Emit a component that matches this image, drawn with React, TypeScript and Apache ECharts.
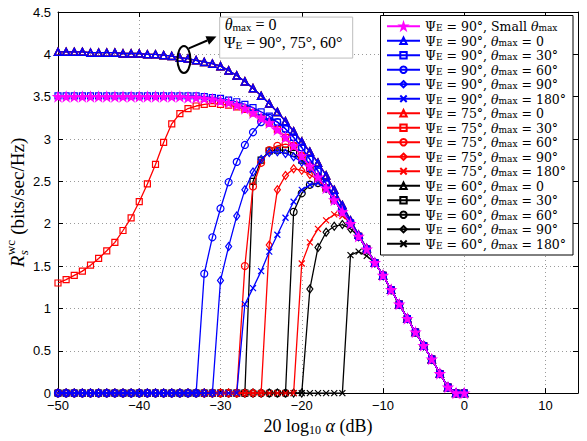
import React, { useEffect, useRef } from 'react';
import * as echarts from 'echarts';

// ---------------- data ----------------
const alphaDb = [-50, -49, -48, -47, -46, -45, -44, -43, -42, -41, -40, -39, -38, -37, -36, -35, -34, -33, -32, -31, -30, -29, -28, -27, -26, -25, -24, -23, -22, -21, -20, -19, -18, -17, -16, -15, -14, -13, -12, -11, -10, -9, -8, -7, -6, -5, -4, -3, -2, -1, 0];

const rate90Small = [
  3.50, 3.50, 3.50, 3.50, 3.50, 3.50, 3.50, 3.50, 3.50, 3.50,
  3.50, 3.50, 3.50, 3.50, 3.50, 3.50, 3.49, 3.49, 3.48, 3.47,
  3.45, 3.43, 3.40, 3.36, 3.31, 3.25, 3.19, 3.11, 3.02, 2.92,
  2.80, 2.68, 2.55, 2.42, 2.28, 2.14, 2.00, 1.85, 1.70, 1.54,
  1.39, 1.22, 1.05, 0.88, 0.72, 0.56, 0.40, 0.23, 0.07, 0, 0];
const rateTheta0 = [
  4.03, 4.03, 4.03, 4.03, 4.02, 4.02, 4.02, 4.02, 4.01, 4.01,
  4.01, 4.00, 4.00, 3.99, 3.98, 3.96, 3.95, 3.93, 3.91, 3.89,
  3.86, 3.81, 3.75, 3.68, 3.60, 3.51, 3.42, 3.32, 3.21, 3.09,
  2.97, 2.85, 2.72, 2.57, 2.40, 2.22, 2.04, 1.87, 1.71, 1.54,
  1.39, 1.22, 1.05, 0.88, 0.72, 0.56, 0.40, 0.23, 0.07, 0, 0];
const rate90t30 = [
  3.51, 3.51, 3.51, 3.51, 3.51, 3.51, 3.51, 3.51, 3.51, 3.51,
  3.51, 3.51, 3.51, 3.51, 3.51, 3.51, 3.51, 3.51, 3.50, 3.49,
  3.48, 3.46, 3.44, 3.41, 3.37, 3.32, 3.27, 3.20, 3.12, 3.02,
  2.90, 2.76, 2.62, 2.47, 2.32, 2.16, 2.01, 1.85, 1.70, 1.54,
  1.39, 1.22, 1.05, 0.88, 0.72, 0.56, 0.40, 0.23, 0.07, 0, 0];
const rate90t60 = [
  0, 0, 0, 0, 0, 0, 0, 0, 0, 0,
  0, 0, 0, 0, 0, 0, 0, 0, 1.41, 1.84,
  2.18, 2.49, 2.73, 2.93, 3.08, 3.20, 3.25, 3.20, 3.12, 3.02,
  2.90, 2.76, 2.62, 2.47, 2.32, 2.16, 2.01, 1.85, 1.70, 1.54,
  1.39, 1.22, 1.05, 0.88, 0.72, 0.56, 0.40, 0.23, 0.07, 0, 0];
const rate90t90 = [
  0, 0, 0, 0, 0, 0, 0, 0, 0, 0,
  0, 0, 0, 0, 0, 0, 0, 0, 0, 0,
  1.33, 1.73, 2.09, 2.40, 2.61, 2.76, 2.84, 2.85, 2.83, 2.79,
  2.73, 2.65, 2.55, 2.42, 2.28, 2.14, 2.00, 1.85, 1.70, 1.54,
  1.39, 1.22, 1.05, 0.88, 0.72, 0.56, 0.40, 0.23, 0.07, 0, 0];
const rate90t180 = [
  0, 0, 0, 0, 0, 0, 0, 0, 0, 0,
  0, 0, 0, 0, 0, 0, 0, 0, 0, 0,
  0, 0, 0, 1.05, 1.24, 1.44, 1.67, 1.87, 2.07, 2.26,
  2.40, 2.46, 2.48, 2.42, 2.28, 2.14, 2.00, 1.85, 1.70, 1.54,
  1.39, 1.22, 1.05, 0.88, 0.72, 0.56, 0.40, 0.23, 0.07, 0, 0];
const rate75t30 = [
  1.30, 1.34, 1.39, 1.44, 1.51, 1.59, 1.68, 1.78, 1.92, 2.07,
  2.26, 2.47, 2.70, 2.96, 3.18, 3.30, 3.36, 3.39, 3.41, 3.42,
  3.41, 3.40, 3.38, 3.35, 3.31, 3.25, 3.19, 3.11, 3.02, 2.92,
  2.80, 2.68, 2.55, 2.42, 2.28, 2.14, 2.00, 1.85, 1.70, 1.54,
  1.39, 1.22, 1.05, 0.88, 0.72, 0.56, 0.40, 0.23, 0.07, 0, 0];
const rate75t60 = [
  0, 0, 0, 0, 0, 0, 0, 0, 0, 0,
  0, 0, 0, 0, 0, 0, 0, 0, 0, 0,
  0, 0, 0, 1.50, 2.44, 2.72, 2.87, 2.92, 2.94, 2.92,
  2.80, 2.68, 2.55, 2.42, 2.28, 2.14, 2.00, 1.85, 1.70, 1.54,
  1.39, 1.22, 1.05, 0.88, 0.72, 0.56, 0.40, 0.23, 0.07, 0, 0];
const rate75t90 = [
  0, 0, 0, 0, 0, 0, 0, 0, 0, 0,
  0, 0, 0, 0, 0, 0, 0, 0, 0, 0,
  0, 0, 0, 0, 0, 0, 1.75, 2.40, 2.57, 2.65,
  2.63, 2.58, 2.52, 2.42, 2.28, 2.14, 2.00, 1.85, 1.70, 1.54,
  1.39, 1.22, 1.05, 0.88, 0.72, 0.56, 0.40, 0.23, 0.07, 0, 0];
const rate75t180 = [
  0, 0, 0, 0, 0, 0, 0, 0, 0, 0,
  0, 0, 0, 0, 0, 0, 0, 0, 0, 0,
  0, 0, 0, 0, 0, 0, 0, 0, 0, 0,
  1.53, 1.78, 1.94, 2.04, 2.11, 2.09, 2.01, 1.85, 1.70, 1.54,
  1.39, 1.22, 1.05, 0.88, 0.72, 0.56, 0.40, 0.23, 0.07, 0, 0];
const rate60t30 = [
  0, 0, 0, 0, 0, 0, 0, 0, 0, 0,
  0, 0, 0, 0, 0, 0, 0, 0, 0, 0,
  0, 0, 0, 0, 2.50, 2.75, 2.86, 2.87, 2.87, 2.83,
  2.75, 2.65, 2.55, 2.42, 2.28, 2.14, 2.00, 1.85, 1.70, 1.54,
  1.39, 1.22, 1.05, 0.88, 0.72, 0.56, 0.40, 0.23, 0.07, 0, 0];
const rate60t60 = [
  0, 0, 0, 0, 0, 0, 0, 0, 0, 0,
  0, 0, 0, 0, 0, 0, 0, 0, 0, 0,
  0, 0, 0, 0, 0, 0, 0, 0, 0, 2.14,
  2.36, 2.46, 2.48, 2.42, 2.28, 2.14, 2.00, 1.85, 1.70, 1.54,
  1.39, 1.22, 1.05, 0.88, 0.72, 0.56, 0.40, 0.23, 0.07, 0, 0];
const rate60t90 = [
  0, 0, 0, 0, 0, 0, 0, 0, 0, 0,
  0, 0, 0, 0, 0, 0, 0, 0, 0, 0,
  0, 0, 0, 0, 0, 0, 0, 0, 0, 0,
  0, 1.23, 1.72, 1.90, 1.97, 1.99, 1.94, 1.85, 1.70, 1.54,
  1.39, 1.22, 1.05, 0.88, 0.72, 0.56, 0.40, 0.23, 0.07, 0, 0];
const rate60t180 = [
  0, 0, 0, 0, 0, 0, 0, 0, 0, 0,
  0, 0, 0, 0, 0, 0, 0, 0, 0, 0,
  0, 0, 0, 0, 0, 0, 0, 0, 0, 0,
  0, 0, 0, 0, 0, 0, 1.63, 1.67, 1.62, 1.54,
  1.39, 1.22, 1.05, 0.88, 0.72, 0.56, 0.40, 0.23, 0.07, 0, 0];

const xTicks = { min: -50, max: 14, interval: 10 };
const yTicks = { min: 0, max: 4.5, interval: 0.5 };

// annotation anchors (data coordinates)
const ellipseAt = [-34.5, 3.94];
const arrowFrom = [-33.9, 4.07];
const arrowTo = [-30.5, 4.21];
const boxAt = [-30.1, 4.44];

// ---------------- styling ----------------
const SERIF = '"Liberation Serif", "DejaVu Serif", serif';
const LSERIF = '"DejaVu Serif", "Liberation Serif", serif';
const SANS = '"Liberation Sans", Arial, sans-serif';
const BLUE = '#0000ff';
const RED = '#ff0000';
const BLACK = '#000000';
const MAGENTA = '#ff00ff';
const STAR = 'path://M50,0L61.2,34.5L97.6,34.5L68.2,55.9L79.4,90.5L50,69.1L20.6,90.5L31.8,55.9L2.4,34.5L38.8,34.5Z';
const CROSS = 'path://M0,0L10,10M10,0L0,10';

const mkName = (psi: string, theta: string) => `ΨE = ${psi}°, θmax = ${theta}`;
const mkRich = (psi: string, theta: string) => `{t|Ψ}{s|E}{t| = ${psi}°, }{i|θ}{s|max}{t| = ${theta}}`;

type Def = { name: string; rich: string; data: number[]; color: string; symbol: string; size: number | number[]; filled?: boolean; z: number };

const markers: { symbol: string; size: number | number[] }[] = [
  { symbol: 'triangle', size: 7 },
  { symbol: 'rect', size: 6 },
  { symbol: 'circle', size: 7 },
  { symbol: 'diamond', size: [6, 8] },
  { symbol: CROSS, size: 6 },
];
const thetas = ['0', '30°', '60°', '90°', '180°'];

const defs: Def[] = [
  { name: 'ΨE = 90°, Small θmax', rich: '{t|Ψ}{s|E}{t| = 90°, Small }{i|θ}{s|max}', data: rate90Small, color: MAGENTA, symbol: STAR, size: 9, filled: true, z: 5 },
];
const groups: { psi: string; color: string; z: number; rows: number[][] }[] = [
  { psi: '90', color: BLUE, z: 4, rows: [rateTheta0, rate90t30, rate90t60, rate90t90, rate90t180] },
  { psi: '75', color: RED, z: 3, rows: [rateTheta0, rate75t30, rate75t60, rate75t90, rate75t180] },
  { psi: '60', color: BLACK, z: 2, rows: [rateTheta0, rate60t30, rate60t60, rate60t90, rate60t180] },
];
groups.forEach((g) => {
  g.rows.forEach((row, k) => {
    defs.push({
      name: mkName(g.psi, thetas[k]),
      rich: mkRich(g.psi, thetas[k]),
      data: row,
      color: g.color,
      symbol: markers[k].symbol,
      size: markers[k].size,
      z: g.z,
    });
  });
});

const richBase = {
  t: { fontFamily: LSERIF, fontSize: 12.5, lineHeight: 12.5, verticalAlign: 'top', color: '#000' },
  i: { fontFamily: LSERIF, fontStyle: 'italic', fontSize: 12.5, lineHeight: 12.5, verticalAlign: 'top', color: '#000' },
  s: { fontFamily: LSERIF, fontSize: 9, lineHeight: 9, padding: [3.75, 0, 0, 0], verticalAlign: 'top', color: '#000' },
};

const richMap: Record<string, string> = {};
defs.forEach((d) => { richMap[d.name] = d.rich; });

function buildOption() {
  return {
    animation: false,
    backgroundColor: '#fff',
    grid: { left: 58, right: 9, top: 12, bottom: 44, containLabel: false },
    xAxis: [
      {
        type: 'value', min: xTicks.min, max: xTicks.max, interval: xTicks.interval,
        axisLine: { onZero: false, lineStyle: { color: '#000', width: 1 } },
        axisTick: { inside: true, length: 5, lineStyle: { color: '#000' } },
        axisLabel: {
          color: '#000', fontSize: 13, fontFamily: SANS, margin: 6, showMaxLabel: false,
          formatter: (v: number) => String(v).replace('-', '−'),
        },
        splitLine: { show: true, lineStyle: { color: '#9a9a9a', type: [1, 3], width: 1 } },
        name: '{t|20 log}{s|10}{t| }{i|α}{t| (dB)}',
        nameLocation: 'middle', nameGap: 20,
        nameTextStyle: {
          rich: {
            t: { fontFamily: SERIF, fontSize: 18, lineHeight: 15, verticalAlign: 'top', color: '#000' },
            i: { fontFamily: SERIF, fontStyle: 'italic', fontSize: 18, lineHeight: 15, verticalAlign: 'top', color: '#000' },
            s: { fontFamily: SERIF, fontSize: 12, lineHeight: 10, padding: [7, 0, 0, 0], verticalAlign: 'top', color: '#000' },
          },
        },
      },
      {
        type: 'value', position: 'top', min: xTicks.min, max: xTicks.max, interval: xTicks.interval,
        axisLine: { onZero: false, lineStyle: { color: '#000', width: 1 } },
        axisTick: { inside: true, length: 5, lineStyle: { color: '#000' } },
        axisLabel: { show: false },
        splitLine: { show: false },
      },
    ],
    yAxis: [
      {
        type: 'value', min: yTicks.min, max: yTicks.max, interval: yTicks.interval,
        axisLine: { onZero: false, lineStyle: { color: '#000', width: 1 } },
        axisTick: { inside: true, length: 5, lineStyle: { color: '#000' } },
        axisLabel: { color: '#000', fontSize: 13, fontFamily: SANS, margin: 7 },
        splitLine: { show: true, lineStyle: { color: '#9a9a9a', type: [1, 3], width: 1 } },
      },
      {
        type: 'value', position: 'right', min: yTicks.min, max: yTicks.max, interval: yTicks.interval,
        axisLine: { onZero: false, lineStyle: { color: '#000', width: 1 } },
        axisTick: { inside: true, length: 5, lineStyle: { color: '#000' } },
        axisLabel: { show: false },
        splitLine: { show: false },
      },
    ],
    legend: {
      orient: 'vertical', left: 381, top: 20, z: 10,
      itemWidth: 33, itemHeight: 8, itemGap: 1.5,
      padding: [0, 4, 0, 5],
      selectedMode: false,
      data: defs.map((d) => d.name),
      formatter: (n: string) => richMap[n],
      textStyle: { fontFamily: LSERIF, fontSize: 12.5, color: '#000', rich: richBase },
    },
    series: defs.map((d) => ({
      type: 'line',
      name: d.name,
      z: d.z,
      data: alphaDb.map((x, i) => [x, d.data[i]]),
      symbol: d.symbol,
      symbolSize: d.size,
      showAllSymbol: true,
      silent: true,
      lineStyle: { color: d.color, width: 1.3 },
      itemStyle: {
        color: d.filled ? d.color : 'rgba(0,0,0,0)',
        borderColor: d.color,
        borderWidth: d.symbol === 'triangle' ? 1.5 : 1.2,
      },
      emphasis: { disabled: true },
    })),
  };
}

export default function App() {
  const ref = useRef<HTMLDivElement>(null);
  useEffect(() => {
    const chart = echarts.init(ref.current as HTMLDivElement, undefined, { renderer: 'svg' });
    chart.setOption(buildOption() as any);

    const toPx = (p: number[]) => chart.convertToPixel({ xAxisIndex: 0, yAxisIndex: 0 }, p) as number[];
    const [ex, ey] = toPx(ellipseAt);
    const [ax0, ay0] = toPx(arrowFrom);
    const [ax1, ay1] = toPx(arrowTo);
    const [bx, by] = toPx(boxAt);
    const ang = Math.atan2(ay1 - ay0, ax1 - ax0);
    const hl = 10, hw = 4.5;
    const c = Math.cos(ang), s = Math.sin(ang);
    const baseX = ax1 - hl * c, baseY = ay1 - hl * s;
    const head = [[ax1, ay1], [baseX + hw * s, baseY - hw * c], [baseX - hw * s, baseY + hw * c]];

    const annRich = {
      t: { fontFamily: SERIF, fontSize: 16, lineHeight: 16, verticalAlign: 'top', fill: '#000' },
      i: { fontFamily: SERIF, fontStyle: 'italic', fontSize: 16, lineHeight: 16, verticalAlign: 'top', fill: '#000' },
      s: { fontFamily: SERIF, fontSize: 11, lineHeight: 10, padding: [5, 0, 0, 0], verticalAlign: 'top', fill: '#000' },
    };

    // y axis name pieces measured with canvas
    const ctx = document.createElement('canvas').getContext('2d') as CanvasRenderingContext2D;
    const mw = (font: string, txt: string) => { ctx.font = font; return ctx.measureText(txt).width; };
    const fR = 'italic 19px "Liberation Serif"';
    const fSup = '13px "Liberation Serif"';
    const fSub = 'italic 13px "Liberation Serif"';
    const fRest = '19px "Liberation Serif"';
    const wR = mw(fR, 'R');
    const wScript = Math.max(mw(fSup, 'wc'), mw(fSub, 's'));
    const restTxt = ' (bits/sec/Hz)';
    const wRest = mw(fRest, restTxt);
    const total = wR + wScript + 1 + wRest;
    const st = -total / 2;
    const yCenter = (toPx([0, 0])[1] + toPx([0, 4.5])[1]) / 2;

    chart.setOption({
      graphic: [
        { type: 'rect', z: 9, silent: true, shape: { x: 380.5, y: 15.5, width: 192.5, height: 239.5 }, style: { fill: '#fff', stroke: '#000', lineWidth: 1 } },
        {
          type: 'group', x: 17, y: yCenter, rotation: Math.PI / 2, silent: true,
          children: [
            { type: 'text', x: st, y: 0, style: { text: 'R', font: fR, fill: '#000', align: 'left', verticalAlign: 'middle' } },
            { type: 'text', x: st + wR + 0.5, y: -7, style: { text: 'wc', font: fSup, fill: '#000', align: 'left', verticalAlign: 'middle' } },
            { type: 'text', x: st + wR + 0.5, y: 6, style: { text: 's', font: fSub, fill: '#000', align: 'left', verticalAlign: 'middle' } },
            { type: 'text', x: st + wR + wScript + 1, y: 0, style: { text: restTxt, font: fRest, fill: '#000', align: 'left', verticalAlign: 'middle' } },
          ],
        },
        { type: 'ellipse', z: 100, silent: true, shape: { cx: ex, cy: ey, rx: 6.5, ry: 13.5 }, style: { fill: 'none', stroke: '#000', lineWidth: 2 } },
        { type: 'line', z: 100, silent: true, shape: { x1: ax0, y1: ay0, x2: baseX, y2: baseY }, style: { stroke: '#000', lineWidth: 2 } },
        { type: 'polygon', z: 100, silent: true, shape: { points: head }, style: { fill: '#000' } },
        { type: 'rect', z: 100, silent: true, shape: { x: bx, y: by, width: 133, height: 41 }, style: { fill: '#fff', stroke: '#bdbdbd', lineWidth: 1 } },
        { type: 'text', z: 101, silent: true, x: bx + 5, y: by - 0.5, style: { text: '{i|θ}{s|max}{t| = 0}', rich: annRich, align: 'left', verticalAlign: 'top' } },
        { type: 'text', z: 101, silent: true, x: bx + 4, y: by + 17.5, style: { text: '{t|Ψ}{s|E}{t| = 90°, 75°, 60°}', rich: annRich, align: 'left', verticalAlign: 'top' } },
      ],
    } as any);

    return () => chart.dispose();
  }, []);
  return <div ref={ref} style={{ position: 'absolute', left: 0, top: 0, width: 587, height: 441 }} />;
}
